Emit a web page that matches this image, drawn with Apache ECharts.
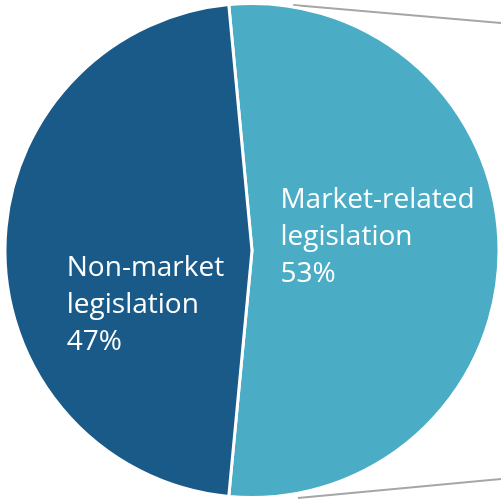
<!DOCTYPE html>
<html>
<head>
<meta charset="utf-8">
<script src="https://cdn.jsdelivr.net/npm/echarts@6/dist/echarts.min.js"></script>
<style>
html,body{margin:0;padding:0;background:#fff;}
#c{width:501px;height:499px;}
</style>
</head>
<body>
<div id="c"></div>
<script>
var categories = ['Market-related\nlegislation', 'Non-market\nlegislation'];
var values = [53, 47];
var colors = ['#4BACC6', '#195A89'];
var labelShift = [[-1, -13], [20, 55]];

var chart = echarts.init(document.getElementById('c'), null, {renderer: 'canvas'});
var data = categories.map(function (c, i) {
  return {name: c, value: values[i], itemStyle: {color: colors[i]}};
});
chart.setOption({
  animation: false,
  backgroundColor: '#ffffff',
  graphic: [
    {type: 'line', shape: {x1: 293, y1: 5, x2: 501, y2: 23}, style: {stroke: '#a6a6a6', lineWidth: 2}, z: 0},
    {type: 'line', shape: {x1: 298, y1: 498, x2: 501, y2: 479}, style: {stroke: '#a6a6a6', lineWidth: 2}, z: 0}
  ],
  series: [{
    type: 'pie',
    center: ['50.3%', '50.2%'],
    radius: '99%',
    startAngle: 95.4,
    clockwise: true,
    data: data,
    itemStyle: {borderColor: '#ffffff', borderWidth: 3},
    label: {
      show: true,
      position: 'inside',
      formatter: '{b}\n{c}%',
      color: '#ffffff',
      fontFamily: 'Open Sans',
      fontSize: 28,
      lineHeight: 37
    },
    labelLine: {show: false},
    labelLayout: function (p) {
      var s = labelShift[p.dataIndex];
      return {
        x: p.labelRect.x + s[0],
        y: p.labelRect.y + p.labelRect.height / 2 + s[1],
        align: 'left',
        verticalAlign: 'middle'
      };
    }
  }]
});
</script>
</body>
</html>
